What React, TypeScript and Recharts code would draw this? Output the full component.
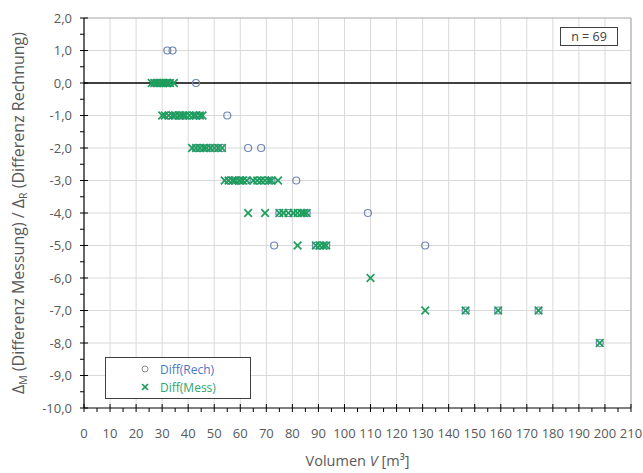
import React from "react";
import {
  ScatterChart,
  Scatter,
  XAxis,
  YAxis,
  ReferenceLine,
  Label,
} from "recharts";

// Volumen [m³] and Differenz for each series
const messVolumen = [
  26, 27, 28, 29, 30, 30.5, 31.5, 32, 33, 34.5,
  30, 31, 32.5, 34, 35, 36.5, 37, 38, 39, 40.5, 42, 43, 44.5, 45.5,
  41.5, 43, 44.5, 46, 47, 48.5, 50, 51.5, 53,
  54, 55.5, 57, 58, 59.5, 60, 61, 62.5, 65, 66.5, 68, 69.5, 71, 72, 74.5,
  63, 69.5, 75, 76.5, 78.5, 80.5, 82, 83.5, 84.5, 85.5,
  82, 89, 90.5, 92, 93,
  110,
  131, 146.5, 159, 174.5,
  198,
];
const messDiff = [
  0, 0, 0, 0, 0, 0, 0, 0, 0, 0,
  -1, -1, -1, -1, -1, -1, -1, -1, -1, -1, -1, -1, -1, -1,
  -2, -2, -2, -2, -2, -2, -2, -2, -2,
  -3, -3, -3, -3, -3, -3, -3, -3, -3, -3, -3, -3, -3, -3, -3,
  -4, -4, -4, -4, -4, -4, -4, -4, -4, -4,
  -5, -5, -5, -5, -5,
  -6,
  -7, -7, -7, -7,
  -8,
];

const rechVolumen = [
  32, 34,
  27, 28.5, 30, 31.5, 33, 43,
  32.5, 35, 37, 39, 40.5, 43, 44.5, 55,
  43, 44.5, 47, 50, 53, 63, 68,
  55.5, 57, 59.5, 62.5, 66.5, 69.5, 72, 81.5,
  75, 78.5, 82, 85.5, 109,
  73, 89, 90.5, 93, 131,
  146.5, 159, 174.5,
  198,
];
const rechDiff = [
  1, 1,
  0, 0, 0, 0, 0, 0,
  -1, -1, -1, -1, -1, -1, -1, -1,
  -2, -2, -2, -2, -2, -2, -2,
  -3, -3, -3, -3, -3, -3, -3, -3,
  -4, -4, -4, -4, -4,
  -5, -5, -5, -5, -5,
  -7, -7, -7,
  -8,
];

const xTicks = [
  0, 5, 10, 15, 20, 25, 30, 35, 40, 45, 50, 55, 60, 65, 70, 75, 80, 85, 90, 95,
  100, 105, 110, 115, 120, 125, 130, 135, 140, 145, 150, 155, 160, 165, 170, 175,
  180, 185, 190, 195, 200, 205, 210,
];
const yTicks = [
  2, 1.5, 1, 0.5, 0, -0.5, -1, -1.5, -2, -2.5, -3, -3.5, -4, -4.5, -5, -5.5, -6,
  -6.5, -7, -7.5, -8, -8.5, -9, -9.5, -10,
];
const xGrid = [10, 20, 30, 40, 50, 60, 70, 80, 90, 100, 110, 120, 130, 140, 150, 160, 170, 180, 190, 200];
const yGrid = [1, -1, -2, -3, -4, -5, -6, -7, -8, -9];

const rechData = rechVolumen.map((x, i) => ({ x, y: rechDiff[i] }));
const messData = messVolumen.map((x, i) => ({ x, y: messDiff[i] }));

const FONT = "'Open Sans', sans-serif";
const TEXT = "#595959";
const BLUE = "#6f86b5";
const GREEN = "#1f9e5e";

// tick y/x arrive 4px outside the axis (tickSize 4, margin 0)
const XTick = (props: any) => {
  const { x, y, payload } = props;
  const major = payload.value % 10 === 0;
  const ay = y - 4;
  return (
    <g>
      {major && <path d={`M${x},${ay - 4}L${x},${ay}`} style={{ stroke: "#000", strokeWidth: 1 }} />}
      {major && (
        <text x={x} y={ay + 30} textAnchor="middle" fontSize={13} fill={TEXT} fontFamily={FONT}>
          {payload.value}
        </text>
      )}
    </g>
  );
};

const YTick = (props: any) => {
  const { x, y, payload } = props;
  const v = payload.value;
  const major = Number.isInteger(v);
  const ax = x + 4;
  return (
    <g>
      {major && <path d={`M${ax},${y}L${ax + 4},${y}`} style={{ stroke: "#000", strokeWidth: 1 }} />}
      {major && (
        <text x={ax - 12} y={y + 4.5} textAnchor="end" fontSize={13} fill={TEXT} fontFamily={FONT}>
          {v.toFixed(1).replace(".", ",")}
        </text>
      )}
    </g>
  );
};

const Circle = (props: any) => (
  <circle cx={props.cx} cy={props.cy} r={3.5} fill="none" stroke={BLUE} strokeWidth={1.2} />
);

const Cross = (props: any) => {
  const { cx, cy } = props;
  const s = 3.8;
  return (
    <g stroke={GREEN} strokeWidth={1.7}>
      <line x1={cx - s} y1={cy - s} x2={cx + s} y2={cy + s} />
      <line x1={cx - s} y1={cy + s} x2={cx + s} y2={cy - s} />
    </g>
  );
};

const XTitle = (props: any) => {
  const { viewBox } = props;
  const cx = viewBox.x + viewBox.width / 2;
  return (
    <text x={cx} y={466} textAnchor="middle" fontSize={14.5} fill={TEXT} fontFamily={FONT}>
      Volumen <tspan fontStyle="italic">V</tspan> [m³]
    </text>
  );
};

const YTitle = (props: any) => {
  const { viewBox } = props;
  const cy = viewBox.y + viewBox.height / 2;
  return (
    <text
      x={20}
      y={cy}
      transform={`rotate(-90, 20, ${cy})`}
      textAnchor="middle"
      dominantBaseline="middle"
      fontSize={16}
      fill={TEXT}
      fontFamily={FONT}
    >
      Δ<tspan fontSize={10.5} dy={4}>M</tspan>
      <tspan dy={-4}> (Differenz Messung) / Δ</tspan>
      <tspan fontSize={10.5} dy={4}>R</tspan>
      <tspan dy={-4}> (Differenz Rechnung)</tspan>
    </text>
  );
};

export default function App() {
  return (
    <div style={{ position: "absolute", left: 0, top: 0, width: 643, height: 473, background: "#fff" }}>
      <ScatterChart
        width={643}
        height={473}
        margin={{ top: 18, right: 12, bottom: 0, left: 0 }}
      >
        {xGrid.map((v) => (
          <ReferenceLine key={"gx" + v} x={v} stroke="#d9d9d9" strokeWidth={1} />
        ))}
        {yGrid.map((v) => (
          <ReferenceLine key={"gy" + v} y={v} stroke="#d9d9d9" strokeWidth={1} />
        ))}
        <ReferenceLine x={210} stroke="#a6a6a6" strokeWidth={1.2} />
        <ReferenceLine y={2} stroke="#a6a6a6" strokeWidth={1.2} />
        <XAxis
          type="number"
          dataKey="x"
          domain={[0, 210]}
          ticks={xTicks}
          interval={0}
          tickSize={4}
          tickMargin={0}
          tickLine={{ stroke: "#000", strokeWidth: 1 }}
          tick={<XTick />}
          axisLine={{ stroke: "#000", strokeWidth: 1.2 }}
          height={65}
          allowDataOverflow
        >
          <Label content={<XTitle />} />
        </XAxis>
        <YAxis
          type="number"
          dataKey="y"
          domain={[-10, 2]}
          ticks={yTicks}
          interval={0}
          tickSize={4}
          tickMargin={0}
          tickLine={{ stroke: "#000", strokeWidth: 1 }}
          tick={<YTick />}
          axisLine={{ stroke: "#000", strokeWidth: 1.2 }}
          width={84}
          allowDataOverflow
        >
          <Label content={<YTitle />} />
        </YAxis>
        <ReferenceLine y={0} stroke="#000" strokeWidth={1.6} />
        <Scatter
          name="Diff(Rech)"
          data={rechData}
          shape={<Circle />}
          isAnimationActive={false}
        />
        <Scatter
          name="Diff(Mess)"
          data={messData}
          shape={<Cross />}
          isAnimationActive={false}
        />
      </ScatterChart>
      <div
        style={{
          position: "absolute",
          left: 105,
          top: 357,
          width: 146,
          height: 42,
          border: "1px solid #404040",
          background: "#fff",
          boxSizing: "border-box",
          fontFamily: FONT,
          fontSize: 12,
          paddingTop: 2,
        }}
      >
        <div style={{ display: "flex", alignItems: "center", height: 18 }}>
          <svg width={12} height={12} style={{ marginLeft: 33, marginRight: 9 }}>
            <circle cx={6} cy={6} r={3} fill="none" stroke="#8c8c8c" strokeWidth={1} />
          </svg>
          <span style={{ color: "#4a78c2" }}>Diff(Rech)</span>
        </div>
        <div style={{ display: "flex", alignItems: "center", height: 18 }}>
          <svg width={12} height={12} style={{ marginLeft: 33, marginRight: 9 }}>
            <line x1={3} y1={3} x2={9} y2={9} stroke={GREEN} strokeWidth={1.7} />
            <line x1={3} y1={9} x2={9} y2={3} stroke={GREEN} strokeWidth={1.7} />
          </svg>
          <span style={{ color: "#2ea66b" }}>Diff(Mess)</span>
        </div>
      </div>
      <div
        style={{
          position: "absolute",
          left: 560,
          top: 27,
          width: 58,
          height: 19,
          border: "1px solid #404040",
          boxSizing: "border-box",
          background: "#fff",
          fontFamily: FONT,
          fontSize: 12.5,
          color: "#404040",
          textAlign: "center",
          lineHeight: "17px",
        }}
      >
        n = 69
      </div>
    </div>
  );
}
